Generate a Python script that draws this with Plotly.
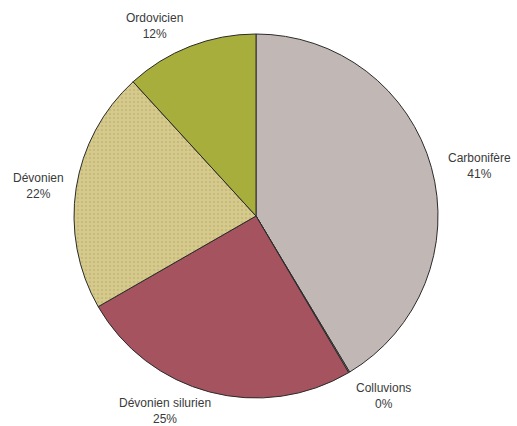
import plotly.graph_objects as go

labels = ["Carbonifère", "Colluvions", "Dévonien silurien", "Dévonien", "Ordovicien"]
values = [41.4, 0.1, 25.2, 21.5, 11.8]
colors = ["#C1B7B5", "#C1B7B5", "#A4535F", "#D6CB8E", "#A8AE3C"]
# label anchor positions (paper coords) for the text labels
label_pos = [(479 / 517, 1 - 166 / 426), (383 / 517, 1 - 396 / 426),
             (165 / 517, 1 - 411 / 426), (38 / 517, 1 - 186 / 426),
             (154 / 517, 1 - 26 / 426)]

total = sum(values)
shapes = ["", "", "", ".", ""]

cx, cy, r = 256, 210, 182
fig = go.Figure(go.Pie(
    labels=labels, values=values, sort=False, direction="clockwise", rotation=0,
    textinfo="none", hoverinfo="label+percent",
    marker=dict(colors=colors, line=dict(color="#2b2b2b", width=1),
                pattern=dict(shape=shapes, fgcolor="#B8A968", bgcolor=colors,
                             size=4, solidity=0.35, fillmode="overlay")),
    domain=dict(x=[(cx - r) / 517, (cx + r) / 517],
                y=[(cy - r) / 426, (cy + r) / 426]),
    showlegend=False,
))

for lab, v, (x, y) in zip(labels, values, label_pos):
    fig.add_annotation(x=x, y=y, xref="paper", yref="paper", showarrow=False,
                       text=f"{lab}<br>{round(v / total * 100)}%",
                       font=dict(family="Liberation Sans, Arial", size=12, color="#3a3a3a"),
                       align="center", xanchor="center", yanchor="middle")

fig.update_layout(width=517, height=426, margin=dict(l=0, r=0, t=0, b=0),
                  paper_bgcolor="white", plot_bgcolor="white")
fig.write_html("out.html")
